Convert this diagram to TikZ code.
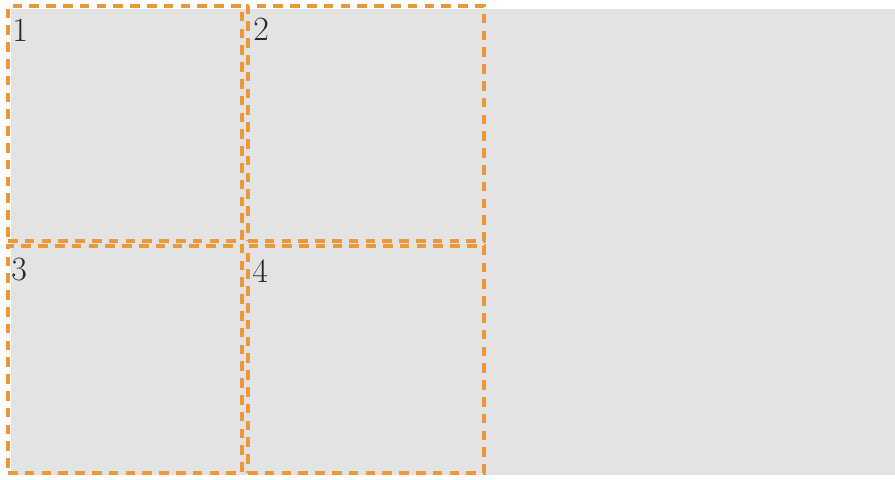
\documentclass[tikz,border=0pt]{standalone}
\usepackage{tikz}
\definecolor{panelgray}{RGB}{227,227,227}
\definecolor{cutorange}{RGB}{236,152,56}
\definecolor{numgray}{RGB}{40,40,40}
\begin{document}
\begin{tikzpicture}[
  x=0.5pt, y=-0.5pt,
  cell/.style={draw=cutorange, line width=1.7pt, dash pattern=on 4.8pt off 3.6pt,
    anchor=north west, inner sep=0pt, outer sep=0pt},
  num/.style={anchor=north west, inner sep=0pt, text=numgray, font=\fontsize{17}{17}\selectfont}
]
\useasboundingbox (0,0) rectangle (895,479);
\fill[panelgray] (11,9) rectangle (895,475);

\node[cell, minimum width=117pt, minimum height=117.5pt] (q1) at (8,6) {};
\node[cell, minimum width=118pt, minimum height=117.5pt] (q2) at (248,6) {};
\node[cell, minimum width=117pt, minimum height=113.5pt] (q3) at (8,246) {};
\node[cell, minimum width=118pt, minimum height=113.5pt] (q4) at (248,246) {};

\node[num] (n1) at ([xshift=2pt,yshift=-6.5pt]q1.north west) {1};
\node[num] (n2) at ([xshift=2.5pt,yshift=-6pt]q2.north west) {2};
\node[num] (n3) at ([xshift=1.5pt,yshift=-6pt]q3.north west) {3};
\node[num] (n4) at ([xshift=2pt,yshift=-6.5pt]q4.north west) {4};
\end{tikzpicture}
\end{document}
